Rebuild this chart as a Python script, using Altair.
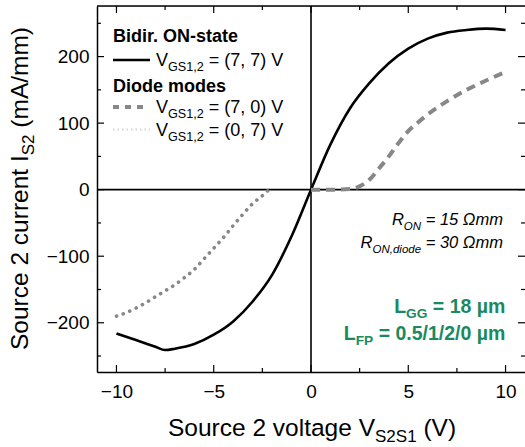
import altair as alt
import pandas as pd

FONT = "Liberation Sans"

# ---------------- data ----------------
on_x = [-10, -9, -8, -7.5, -7, -6, -5, -4, -3, -2, -1, 0, 1, 2, 3, 4, 5, 6, 7, 8, 9, 10]
on_y = [-216, -226, -236, -241, -239, -232, -218, -198, -168, -128, -70, 0, 68, 122, 160, 190, 212, 227, 236, 240, 242, 240]

d70_x = [0, 1, 2, 2.5, 3, 3.5, 4, 4.5, 5, 5.5, 6, 7, 8, 9, 10]
d70_y = [0, 0, 1, 5, 15, 32, 50, 70, 88, 101, 113, 133, 150, 164, 177]

d07_x = [-10, -9.5, -9, -8.5, -8, -7.5, -7, -6.5, -6, -5.5, -5, -4.5, -4, -3.5, -3, -2.5, -2.2]
d07_y = [-190, -185, -178, -170, -161, -152, -143, -132, -120, -104, -88, -72, -54, -37, -21, -9, -1]

x_major = [-10, -5, 0, 5, 10]
x_minor = [-7.5, -2.5, 2.5, 7.5]
y_major = [-200, -100, 0, 100, 200]
y_minor = [-250, -150, -50, 50, 150, 250]

x_domain = [-11, 11]
y_domain = [-274, 276]

GRAY = "#878787"
GREEN = "#1a8a5e"

W, H = 428, 366

# ---------------- helpers ----------------
REG = {' ': 278, '(': 333, ')': 333, ',': 278, '.': 278, '/': 278, '=': 584,
       'A': 667, 'G': 778, 'I': 278, 'L': 556, 'N': 722, 'O': 778, 'P': 667, 'R': 722,
       'S': 667, 'V': 667, 'F': 611, 'a': 556, 'c': 500, 'd': 556, 'e': 556, 'g': 556,
       'i': 222, 'l': 222, 'm': 833, 'n': 556, 'o': 556, 'r': 333, 't': 278, 'u': 556,
       'v': 500, 'Ω': 768, 'µ': 556}
BOLD = {' ': 278, '=': 584, '.': 278, '/': 278, 'µ': 611, 'm': 889, 'L': 611,
        'G': 778, 'F': 611, 'P': 667}
for d in '0123456789':
    REG[d] = 556
    BOLD[d] = 556


def tw(s, size, bold=False):
    tab = BOLD if bold else REG
    return sum(tab.get(c, 556) for c in s) * size / 1000.0


def txt(s, x, y, size, weight="normal", style="normal", color="black", angle=0):
    return alt.Chart(alt.Data(values=[{}])).mark_text(
        text=s, fontSize=size, fontWeight=weight, fontStyle=style, color=color,
        angle=angle, align="left", baseline="alphabetic", font=FONT
    ).encode(x=alt.value(x), y=alt.value(y))


def run(pieces, x0, y0, weight="normal", style="normal", color="black", right=None):
    """pieces: list of (text, size, dy). Lays pieces left to right."""
    bold = weight == "bold"
    total = sum(tw(t, s, bold) for t, s, _ in pieces)
    x = x0 if right is None else right - total
    out = []
    for t, s, dy in pieces:
        lead = len(t) - len(t.lstrip(" "))
        x += tw(" " * lead, s, bold)
        t2 = t.lstrip(" ")
        out.append(txt(t2, x, y0 + dy, s, weight, style, color))
        x += tw(t2, s, bold)
    return out


def vrun(pieces, x0, y0):
    """rotated (reading bottom-to-top) pieces; dy shifts toward +x."""
    out = []
    y = y0
    for t, s, dy in pieces:
        lead = len(t) - len(t.lstrip(" "))
        y -= tw(" " * lead, s)
        t2 = t.lstrip(" ")
        out.append(txt(t2, x0 + dy, y, s, angle=270))
        y -= tw(t2, s)
    return out


xs = alt.Scale(domain=x_domain, nice=False, zero=False)
ys = alt.Scale(domain=y_domain, nice=False, zero=False)

axis_common = dict(title=None, ticks=False, grid=False, domainColor="black", domainWidth=1.5,
                   labelFont=FONT, labelFontSize=19, labelColor="black")
AX = alt.Axis(values=x_major, labelPadding=10, **axis_common)
AY = alt.Axis(values=y_major, labelPadding=8, **axis_common)

df_on = pd.DataFrame({"x": on_x, "y": on_y})
df_70 = pd.DataFrame({"x": d70_x, "y": d70_y})
df_07 = pd.DataFrame({"x": d07_x, "y": d07_y})


def X(f):
    return alt.X(f, scale=xs, axis=AX)


def Y(f):
    return alt.Y(f, scale=ys, axis=AY)


main = alt.Chart(df_on).mark_line(color="black", strokeWidth=2.6, interpolate="monotone").encode(
    x=X("x:Q"), y=Y("y:Q"))

dash70 = alt.Chart(df_70).mark_line(color=GRAY, strokeWidth=4, strokeDash=[9, 6],
                                    interpolate="monotone").encode(x=X("x:Q"), y=Y("y:Q"))

dot07 = alt.Chart(df_07).mark_line(color=GRAY, strokeWidth=3.6, strokeDash=[0.1, 7],
                                   strokeCap="round", interpolate="monotone").encode(x=X("x:Q"), y=Y("y:Q"))

# zero lines
zero_h = alt.Chart(alt.Data(values=[{}])).mark_rule(color="black", strokeWidth=1.6).encode(
    y=alt.datum(0, scale=ys, axis=AY), x=alt.value(0), x2=alt.value(W))
zero_v = alt.Chart(alt.Data(values=[{}])).mark_rule(color="black", strokeWidth=1.6).encode(
    x=alt.datum(0, scale=xs, axis=AX), y=alt.value(0), y2=alt.value(H))

# frame top
top_line = alt.Chart(alt.Data(values=[{}])).mark_rule(color="black", strokeWidth=1.5).encode(
    x=alt.value(0), x2=alt.value(W), y=alt.value(0))


# inward ticks
def xticks(vals, ln):
    d = pd.DataFrame({"v": vals})
    b = alt.Chart(d).mark_rule(color="black", strokeWidth=1.2).encode(
        x=X("v:Q"), y=alt.value(H), y2=alt.value(H - ln))
    t = alt.Chart(d).mark_rule(color="black", strokeWidth=1.2).encode(
        x=X("v:Q"), y=alt.value(0), y2=alt.value(ln))
    return [b, t]


def yticks(vals, ln):
    d = pd.DataFrame({"v": vals})
    l = alt.Chart(d).mark_rule(color="black", strokeWidth=1.2).encode(
        y=Y("v:Q"), x=alt.value(0), x2=alt.value(ln))
    r = alt.Chart(d).mark_rule(color="black", strokeWidth=1.2).encode(
        y=Y("v:Q"), x=alt.value(W), x2=alt.value(W - ln))
    return [l, r]


ticks = xticks(x_major, 7) + xticks(x_minor, 4) + yticks(y_major, 7) + yticks(y_minor, 4)

# legend
leg = []
leg += run([("Bidir. ON-state", 18, 0)], 16, 35.7, weight="bold")
leg.append(alt.Chart(alt.Data(values=[{}])).mark_rule(color="black", strokeWidth=2.6).encode(
    x=alt.value(16), x2=alt.value(53), y=alt.value(54)))
leg += run([("V", 18, 0), ("GS1,2", 12.6, 5), (" = (7, 7) V", 18, 0)], 59, 59.7)
leg += run([("Diode modes", 18, 0)], 16, 85.5, weight="bold")
leg.append(alt.Chart(alt.Data(values=[{}])).mark_rule(color=GRAY, strokeWidth=4, strokeDash=[6, 6]).encode(
    x=alt.value(16), x2=alt.value(52), y=alt.value(101)))
leg += run([("V", 18, 0), ("GS1,2", 12.6, 5), (" = (7, 0) V", 18, 0)], 59, 106.5)
leg.append(alt.Chart(alt.Data(values=[{}])).mark_rule(color="#d4d4d4", strokeWidth=2, strokeDash=[1.5, 3]).encode(
    x=alt.value(16), x2=alt.value(53), y=alt.value(123.5)))
leg += run([("V", 18, 0), ("GS1,2", 12.6, 5), (" = (0, 7) V", 18, 0)], 59, 129.5)

# annotations
ann = []
ann += run([("R", 16.5, 0), ("ON", 11.5, 4.5), (" = 15 Ωmm", 16.5, 0)], 0, 219, style="italic", right=406)
ann += run([("R", 16.5, 0), ("ON,diode", 11.5, 4.5), (" = 30 Ωmm", 16.5, 0)], 0, 242, style="italic", right=406)
ann += run([("L", 19.5, 0), ("GG", 13.7, 5), (" = 18 µm", 19.5, 0)], 0, 307, weight="bold", color=GREEN, right=409)
ann += run([("L", 19.5, 0), ("FP", 13.7, 5), (" = 0.5/1/2/0 µm", 19.5, 0)], 0, 334, weight="bold", color=GREEN, right=409)

# axis titles
titles = []
titles += run([("Source 2 voltage V", 24.5, 0), ("S2S1", 17, 5.5), (" (V)", 24.5, 0)], 71, 430)
titles += vrun([("Source 2 current I", 24.5, 0), ("S2", 17, 5.5), (" (mA/mm)", 24.5, 0)], -69, 344)

chart = alt.layer(
    main, zero_h, zero_v, top_line, *ticks, dot07, dash70, *leg, *ann, *titles
).properties(
    width=W, height=H,
    padding={"left": 97, "top": 6, "right": 0, "bottom": 75},
    autosize=alt.AutoSizeParams(type="none"),
).configure_view(stroke=None).configure(background="white")

chart.save("out.html", embed_options={"renderer": "svg", "actions": False})
